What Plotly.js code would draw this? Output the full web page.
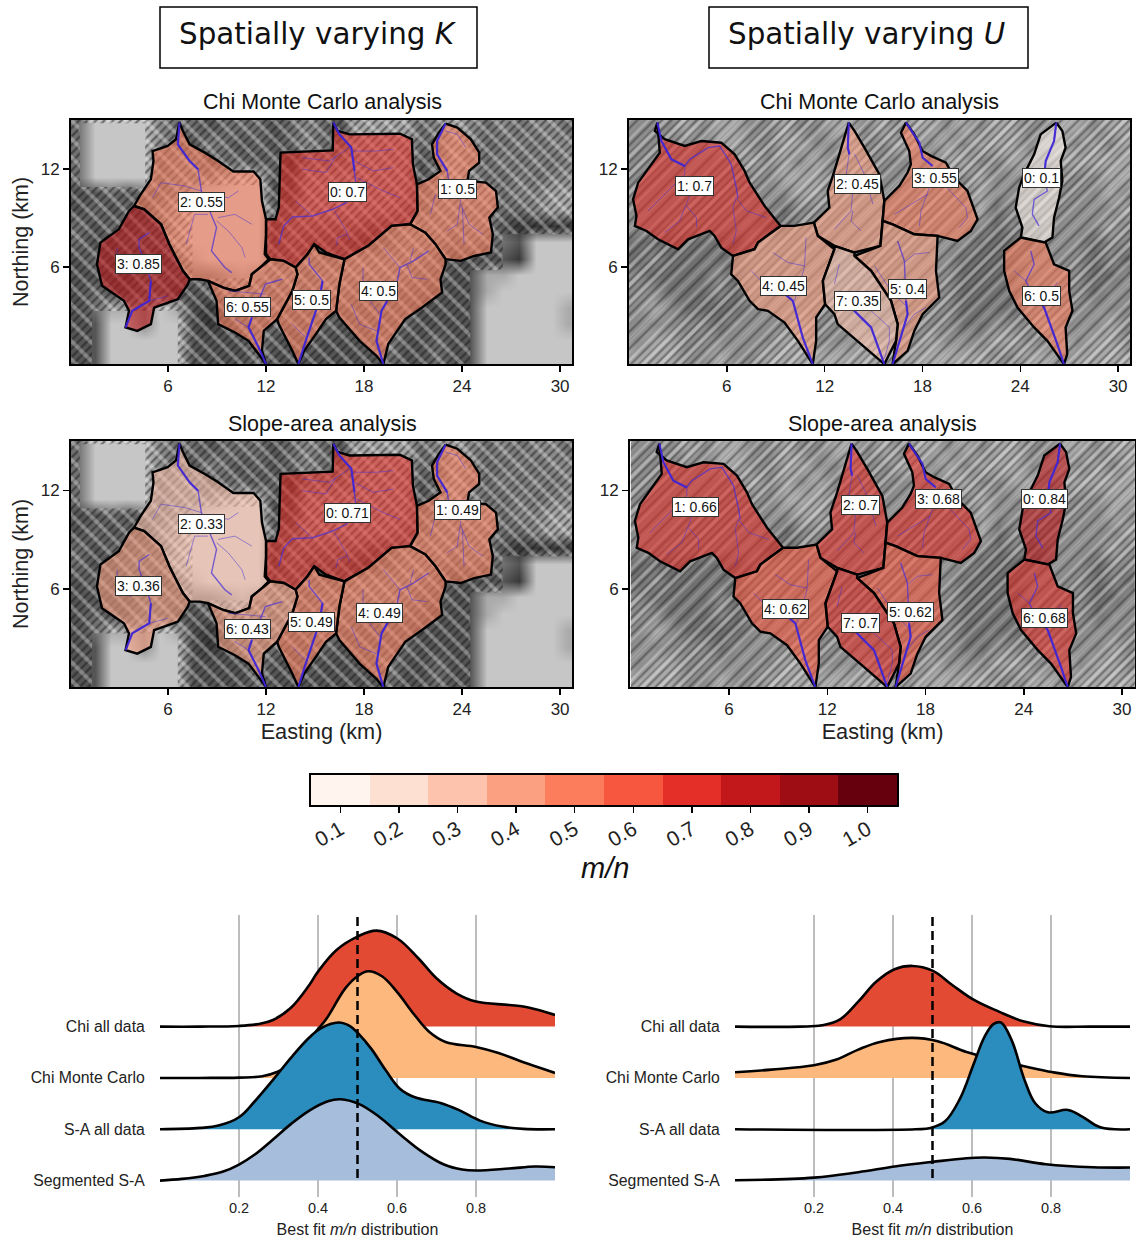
<!DOCTYPE html>
<html><head><meta charset="utf-8">
<script src="https://cdn.plot.ly/plotly-3.0.1.min.js"></script>
<style>html,body{margin:0;padding:0;background:#fff}#c{width:1136px;height:1241px}</style>
</head><body><div id="c"></div>
<script>
// ---------- colour bins (m/n) ----------
const binTicks=[0.1,0.2,0.3,0.4,0.5,0.6,0.7,0.8,0.9,1.0];
const binColors=['#fff4ee','#fee0d3','#fdc3ac','#fca082','#fb7d5b','#f6573e','#e32f27','#c2181b','#9e0d14','#67000d'];

// ---------- best-fit m/n by basin ----------
const valsKChi=[0.7,0.5,0.55,0.85,0.5,0.5,0.55];
const valsKSA=[0.71,0.49,0.33,0.36,0.49,0.49,0.43];
const valsUChi=[0.1,0.7,0.45,0.55,0.45,0.4,0.5,0.35];
const valsUSA=[0.84,0.66,0.7,0.68,0.62,0.62,0.68,0.7];

// ---------- label anchor points, km ----------
const labKChi=[[17.0,10.6],[23.75,10.75],[8.04,9.98],[4.19,6.2],[18.9,4.53],[14.78,4.0],[10.87,3.57]];
const labKSA=[[17.0,10.63],[23.75,10.78],[8.04,9.96],[4.19,6.2],[18.97,4.55],[14.78,4.02],[10.87,3.57]];
const labUChi=[[25.3,11.43],[3.99,10.98],[13.99,11.1],[18.78,11.43],[9.48,4.82],[17.09,4.63],[25.3,4.22],[13.99,3.92]];
const labUSA=[[25.25,11.49],[3.98,11.0],[14.0,11.14],[18.76,11.49],[9.47,4.82],[17.1,4.63],[25.25,4.24],[14.0,3.92]];

// ---------- basin outlines, km : spatially varying K ----------
const K0=[[16.12,14.84],[16.39,14.33],[17.11,14.12],[20.2,14.16],[20.93,13.82],[20.99,12.29],[21.24,11.06],[21.28,9.43],[20.82,8.61],[19.69,8.51],[18.97,7.9],[18.25,7.29],[16.8,6.47],[15.67,6.88],[14.95,7.39],[14.54,6.78],[13.81,5.96],[13.09,6.37],[12.27,6.47],[12.0,6.78],[12.0,8.92],[12.58,8.92],[12.78,9.63],[12.89,13.0],[16.08,13.14]];
const K1=[[22.99,14.78],[23.71,14.53],[24.54,13.82],[25.05,13.0],[25.05,12.39],[24.43,11.88],[24.33,11.27],[25.46,11.16],[26.08,10.65],[26.19,9.63],[25.67,9.02],[25.88,8.0],[25.77,6.88],[24.74,6.67],[23.92,6.37],[22.99,6.47],[22.37,7.39],[21.75,8.1],[20.82,8.61],[21.28,9.43],[21.24,11.06],[21.96,11.37],[22.68,11.88],[22.27,12.69],[22.16,13.51],[22.58,14.22]];
const K2=[[6.7,14.84],[6.91,14.33],[7.32,13.51],[8.25,13.0],[9.07,12.49],[10.0,11.84],[11.24,11.84],[11.65,11.37],[11.75,10.04],[12.0,8.92],[12.0,8.0],[11.92,6.78],[12.16,6.47],[11.75,6.06],[11.13,5.55],[10.97,4.84],[10.1,4.53],[9.38,4.73],[8.45,5.14],[7.94,5.24],[7.32,5.24],[6.91,5.76],[6.49,6.57],[6.08,7.39],[5.57,8.61],[4.54,9.53],[3.92,9.73],[4.33,10.45],[4.95,11.37],[5.11,12.49],[5.05,13.1],[5.98,13.41],[6.49,13.82]];
const K3=[[3.92,9.73],[4.54,9.53],[5.57,8.61],[6.08,7.39],[6.49,6.57],[6.91,5.76],[7.32,5.24],[7.22,4.94],[6.6,4.02],[5.15,3.51],[4.95,2.49],[4.12,2.08],[3.4,2.29],[3.61,3.31],[3.3,3.92],[1.96,4.84],[1.65,6.16],[1.86,7.49],[2.99,8.31],[3.61,9.43]];
const K4=[[19.18,0.04],[19.48,1.27],[20.52,2.8],[21.55,3.51],[22.78,4.43],[22.68,5.24],[22.99,6.16],[22.99,6.47],[22.37,7.39],[21.75,8.1],[20.82,8.61],[19.69,8.51],[18.97,7.9],[18.25,7.29],[16.8,6.47],[16.49,4.94],[16.29,3.31],[16.49,2.9],[17.73,1.47],[18.76,0.55]];
const K5=[[14.95,7.39],[15.26,6.88],[16.8,6.47],[16.49,4.94],[16.29,3.31],[15.67,2.8],[15.05,1.88],[14.33,0.86],[13.98,0.04],[13.61,0.86],[12.78,2.49],[12.68,2.8],[13.61,4.53],[13.92,5.55],[13.81,5.96],[14.54,6.78]];
const K6=[[12.0,0.04],[11.75,0.86],[11.86,2.08],[12.58,2.69],[12.68,2.8],[13.61,4.53],[13.92,5.55],[13.81,5.96],[13.09,6.37],[12.27,6.47],[11.75,6.06],[11.13,5.55],[10.97,4.84],[10.1,4.53],[9.38,4.73],[8.45,5.14],[8.97,3.92],[9.07,2.49],[10.1,1.98],[10.93,1.47],[11.55,0.65]];

// ---------- basin outlines, km : spatially varying U ----------
const U0=[[26.21,14.84],[26.58,14.33],[26.78,13.31],[26.48,12.49],[26.58,11.27],[26.38,10.24],[26.07,9.02],[25.97,7.8],[25.46,7.49],[24.03,7.8],[24.13,8.41],[23.72,9.63],[23.93,10.86],[24.23,11.67],[24.85,12.9],[25.25,14.12]];
const U1=[[1.74,14.84],[1.58,14.33],[2.19,13.82],[3.42,13.41],[4.44,13.71],[5.66,13.61],[6.48,12.9],[7.09,11.88],[7.4,11.16],[8.32,9.73],[9.3,8.51],[7.91,7.49],[7.7,7.08],[6.38,6.67],[5.66,7.18],[5.25,7.9],[4.95,8.2],[4.23,7.9],[3.62,7.69],[3.01,7.08],[1.78,7.69],[1.07,8.2],[0.36,8.51],[0.46,9.12],[0.25,10.14],[0.56,11.16],[1.38,12.29],[1.89,13.0]];
const U2=[[13.48,14.84],[13.83,14.33],[14.44,13.31],[15.36,11.67],[15.66,10.04],[15.56,8.82],[15.42,7.29],[13.83,6.88],[12.6,7.29],[11.58,7.9],[11.34,8.71],[12.29,9.63],[12.19,10.65],[12.6,11.88],[13.11,13.51]];
const U3=[[16.99,14.84],[17.5,14.12],[18.0,13.1],[18.52,12.8],[19.44,12.39],[19.95,11.47],[20.76,10.65],[21.38,8.92],[20.97,8.2],[20.15,7.59],[18.93,7.9],[17.5,8.0],[16.17,8.61],[15.56,8.82],[15.66,10.04],[16.58,10.96],[17.09,11.78],[17.29,12.29],[17.19,13.1],[16.68,14.22]];
const U4=[[9.3,8.51],[7.91,7.49],[7.7,7.08],[6.38,6.67],[6.27,5.55],[6.68,5.14],[7.4,3.92],[7.91,3.41],[8.52,3.31],[9.54,2.59],[10.36,1.47],[11.27,0.04],[11.48,1.47],[11.48,2.9],[12.03,3.71],[11.89,5.14],[12.6,7.08],[11.58,7.9],[11.34,8.71],[10.15,8.51]];
const U5=[[16.17,8.61],[17.5,8.0],[18.93,7.9],[18.89,6.78],[18.83,5.76],[19.03,4.12],[18.01,3.1],[17.5,2.08],[17.09,0.86],[16.17,0.04],[16.38,1.47],[16.48,2.49],[16.07,3.92],[14.85,5.76],[13.83,6.67],[15.42,7.29],[15.56,8.82]];
const U6=[[24.03,7.8],[25.46,7.49],[25.56,7.49],[26.07,6.16],[27.0,5.76],[27.0,4.53],[27.2,3.31],[26.78,2.29],[26.88,0.65],[26.68,0.04],[25.66,1.47],[24.85,2.29],[23.83,3.51],[23.32,4.53],[23.01,5.76],[23.01,6.98]];
const U7=[[12.6,7.29],[13.83,6.88],[13.83,6.67],[14.85,5.76],[16.07,3.92],[16.48,2.49],[16.38,1.47],[15.66,0.04],[14.23,1.27],[12.8,2.49],[12.6,3.1],[12.03,3.71],[11.89,5.14],[12.6,7.08]];

// ---------- channel networks, km ----------
const K0main=[[16.12,14.84],[16.49,14.12],[17.22,13.31],[17.42,11.88],[17.53,10.86],[16.91,9.94],[16.08,9.53],[14.85,9.12],[13.61,9.06],[13.09,8.51],[12.78,7.39]];
const K0trib=[[[17.53,11.47],[19.18,10.65],[20.2,10.24]],[[17.42,12.49],[18.56,11.88],[19.79,12.08]],[[17.32,13.1],[18.76,13.1],[19.79,13.2]],[[17.11,13.31],[15.88,12.49],[14.23,12.69]],[[16.29,12.8],[15.67,11.78],[14.23,11.98]],[[16.19,9.43],[16.91,8.2],[17.11,7.69]],[[14.85,9.12],[13.81,10.04]],[[16.91,8.0],[16.39,7.8],[16.29,7.29]]];
const K1main=[[22.99,14.78],[22.47,13.71],[22.47,12.9],[23.09,11.88],[23.2,11.16]];
const K1trib=[[[22.99,14.33],[23.71,14.12],[24.23,13.31]],[[23.92,10.14],[23.71,8.61],[23.09,8.2]],[[23.92,9.84],[24.43,8.61],[25.26,8.0]],[[24.02,9.63],[24.12,7.39]],[[22.37,10.45],[22.06,9.22]]];
const K2main=[[6.7,14.84],[6.6,13.51],[7.32,12.49],[7.84,11.98],[8.04,10.65],[8.45,9.63],[8.97,8.41],[8.66,6.98],[9.48,5.96],[9.9,5.65]];
const K2trib=[[[8.04,10.65],[7.01,10.96],[5.57,11.16],[5.05,10.24]],[[8.04,10.55],[9.69,10.24],[10.31,10.65]],[[8.97,8.82],[9.69,8.2],[10.52,7.18],[10.72,6.57]],[[8.45,9.22],[7.63,9.22],[7.11,7.39]],[[9.07,9.02],[10.1,9.22],[11.13,8.61]]];
const K3main=[[3.4,2.29],[3.81,3.31],[4.85,3.92],[4.95,5.14],[4.64,6.16],[4.23,7.18],[4.23,7.69],[4.85,8.1]];
const K3trib=[[[4.85,3.92],[5.98,4.22]],[[4.64,5.96],[3.71,5.55],[2.89,6.16],[2.89,7.18]]];
const K4main=[[19.18,0.04],[18.76,1.47],[19.07,3.31],[20.0,4.94],[20.2,5.96],[21.03,6.37],[21.96,6.98]];
const K4trib=[[[20.2,5.96],[19.18,7.18]],[[20.62,6.16],[20.93,5.35],[21.86,5.24]],[[18.97,3.1],[18.35,3.92],[17.94,5.14],[17.94,5.96]],[[18.76,2.08],[17.73,2.49],[17.22,3.71]],[[20.82,6.37],[21.03,7.18]]];
const K5main=[[13.98,0.04],[14.43,1.47],[15.26,3.92],[15.46,5.14],[14.64,6.16],[14.64,6.57]];
const K5trib=[[[14.43,1.67],[13.61,2.49]]];
const K6main=[[12.0,0.04],[11.55,1.06],[10.93,2.29],[11.13,2.9],[11.96,4.94],[12.99,5.24]];
const K6trib=[[[10.93,2.29],[10.1,2.8]],[[11.96,4.33],[9.69,4.53]]];

const U0main=[[26.21,14.84],[26.07,13.71],[25.56,12.49],[25.46,11.47],[25.66,10.65],[24.85,10.14],[24.74,9.22],[25.15,8.51]];
const U0trib=[];
const U1main=[[1.74,14.84],[1.99,13.71],[2.6,12.59],[3.42,12.18],[3.72,12.59],[4.85,13.31],[5.56,13.41],[6.27,12.29],[6.58,10.86],[6.68,10.24]];
const U1trib=[[[3.42,12.18],[3.42,11.67],[1.78,10.04],[1.17,9.43]],[[3.72,10.35],[3.11,8.82],[2.19,8.1]],[[3.53,9.73],[4.14,9.02],[4.14,8.41]],[[6.58,10.24],[6.38,9.63],[6.58,8.2],[6.38,7.39]],[[6.58,10.24],[7.2,9.43],[8.42,9.02]]];
const U2main=[[13.48,14.84],[13.42,13.31],[13.52,12.9]];
const U2trib=[[[13.52,13.0],[13.32,11.67]],[[13.84,12.9],[14.44,11.67],[14.96,9.84]],[[13.73,10.65],[13.62,9.43],[12.6,8.31]],[[13.73,9.43],[13.62,8.82],[14.23,8.2]]];
const U3main=[[16.99,14.84],[17.81,13.61],[18.01,12.69],[18.62,12.18]];
const U3trib=[[[18.42,10.86],[17.91,9.43],[17.81,8.51]],[[19.5,10.86],[20.66,9.63],[20.76,9.02],[20.25,8.41]],[[18.32,10.45],[16.28,9.22]]];
const U4main=[[11.27,0.04],[10.66,1.67],[10.05,3.92],[9.33,4.53]];
const U4trib=[[[10.15,3.92],[10.76,5.96],[10.86,7.8]],[[10.76,6.06],[9.74,6.27],[8.82,6.88]],[[9.33,4.53],[8.11,5.14],[7.5,5.76]]];
const U5main=[[16.17,0.04],[16.58,1.47],[17.09,3.1],[16.99,3.92],[16.89,5.96],[16.89,6.37],[16.48,7.59]];
const U5trib=[[[16.89,6.27],[17.5,6.78],[18.42,6.88]],[[17.09,3.51],[16.07,4.53],[15.06,6.06]],[[16.89,2.29],[17.5,3.1],[18.21,3.51]]];
const U6main=[[26.68,0.04],[26.27,1.27],[25.46,3.51],[24.54,4.73],[24.34,5.14],[24.85,6.16],[24.64,6.98]];
const U6trib=[[[24.34,5.14],[23.62,5.76]],[[25.36,3.71],[26.27,5.04]]];
const U7main=[[15.66,0.04],[14.85,2.29],[14.13,3.0],[13.62,3.51]];
const U7trib=[[[15.66,0.35],[15.97,1.47],[15.97,2.29],[14.85,3.31]],[[12.6,4.94],[12.9,6.16]]];

// ---------- hillshade tone, estimated per km cell (top row first, 0 dark - 9 light) ----------
const shadeK=[
"47777 54434 44345 43666 64565 45455 4","47777 54354 34345 44666 64465 44545 5","47777 45534 43425 55666 63465 45454 5",
"47777 45556 77336 66666 63565 44545 5","33434 45677 77336 66666 64555 64556 6","34343 56777 77446 66666 54555 54456 6",
"43434 46777 77355 55544 55555 53222 2","43344 46777 77354 44334 55545 44377 7","34333 34677 77445 44555 55433 33277 7",
"33334 44445 65554 55555 54433 66777 7","34334 43345 55454 55444 44333 67777 7","34665 76323 44544 54444 43333 77777 6",
"33775 77323 44444 43444 43333 77777 6","33777 77333 35334 33345 33433 77777 7","33777 77333 34333 33334 33433 77777 7"];
const shadeU=[
"55565 66556 55665 65665 65665 56656 6","55555 66556 65565 56656 56665 66565 6","55555 55656 56555 55556 65566 56666 6",
"55555 55556 66556 55555 56555 55556 6","55555 55555 66555 55555 56555 55556 5","55555 55554 55555 55555 56455 55555 6",
"55555 55544 55555 55555 55454 55556 5","44444 44555 55555 55555 54444 55545 5","45444 44555 55555 55555 44445 55545 4",
"54444 54555 55555 55555 44445 55544 5","55444 54555 55555 55555 44445 55545 5","56544 44555 55555 55555 44445 55555 5",
"55555 45555 65555 55555 44555 65556 5","56655 55556 65556 55565 55665 56566 5","66655 65566 66666 65666 66556 65666 6"];

// ---------- ridgeline densities (relative) ----------
const rLx=[[0,.1,.2,.25,.286,.33,.378,.4,.447,.5,.548,.6,.654,.7,.75,.8,.884,.93,1],
[0,.1,.2,.259,.296,.314,.36,.401,.42,.47,.5,.527,.562,.6,.645,.682,.723,.8,.857,.93,1],
[0,.102,.148,.2,.24,.286,.332,.378,.406,.452,.48,.503,.535,.572,.608,.645,.71,.756,.81,.866,.92,1],
[0,.056,.112,.16,.2,.24,.286,.332,.378,.425,.457,.503,.553,.608,.664,.719,.765,.8,.884,.949,1]];
const rLh=[[0,0,2,8,20,55,125,165,230,270,288,265,205,145,100,75,65,58,35],
[0,0,1,5,18,30,88,148,175,270,305,320,305,258,188,138,108,93,75,43,15],
[0,4,11,36,84,148,215,275,302,320,310,286,241,176,121,96,79,58,26,8,1,0],
[0,5,14,27,48,78,123,170,210,238,244,230,193,138,86,48,33,30,36,42,40]];
const rRx=[[0,.165,.22,.266,.312,.358,.404,.449,.5,.55,.605,.668,.732,.796,.9,1],
[0,.092,.2,.257,.312,.367,.449,.513,.586,.66,.732,.805,.879,1],
[0,.458,.495,.531,.568,.605,.632,.655,.673,.7,.733,.76,.792,.843,.879,.925,1],
[0,.2,.312,.404,.5,.586,.632,.696,.787,.906,1]];
const rRh=[[0,0,4,22,75,135,172,182,168,125,80,45,15,1,0,0],
[17,25,38,55,85,108,120,110,78,55,35,17,5,0],
[0,0,4,23,88,198,278,316,320,268,148,78,51,58,38,6,0],
[1,9,25,42,56,67,69,65,49,40,39]];
const ridgeNames=['Chi all data','Chi Monte Carlo','S-A all data','Segmented S-A'];
const ridgeColors=['#e24a33','#fdb97d','#2b8cbe','#a6bddb'];
const ridgeTicks=[0.2,0.4,0.6,0.8];
const ridgeBases=[3,2,1,0];
const refLine=0.5;
// rough-terrain hatch area, K panels: outer frame + smooth blocks
const smoothBlocks=[[[0.6,10.9],[0.6,14.8],[4.6,14.8],[4.6,10.9]],[[1.35,0],[1.35,3.3],[6.6,3.3],[6.6,0]],[[24.5,0],[24.5,5.8],[26.5,5.8],[26.5,8],[31,8],[31,0]],[[7.5,5.3],[7.5,11],[11.9,11],[11.9,5.3]]];
const mapFrame=[[0,0],[31,0],[31,15],[0,15]];

const W=1136,H=1241;
const dx=(a,b)=>[a/W,b/W], dy=(t,b)=>[1-b/H,1-t/H];
const font='"Liberation Sans",Arial,sans-serif';
const traces=[], annotations=[];
const px=(p)=>p.map(q=>q[0]), py=(p)=>p.map(q=>q[1]);
const closed=(p)=>p.concat([p[0]]);
const digits=(rows)=>rows.map(r=>r.replace(/ /g,'').split('').map(Number));
const kmx=Array.from(shadeK[0].replace(/ /g,'')).map((_,i)=>i+0.5);
const kmy=shadeK.map((_,i)=>14.5-i);
function binColor(v,a){
  const i=Math.max(0,Math.min(9,Math.ceil(v*10-0.5-1e-9)-1));
  const c=binColors[i];
  const r=parseInt(c.slice(1,3),16),g=parseInt(c.slice(3,5),16),b=parseInt(c.slice(5,7),16);
  return `rgba(${r},${g},${b},${a})`;
}
const basinsK=[K0,K1,K2,K3,K4,K5,K6];
const mainsK=[K0main,K1main,K2main,K3main,K4main,K5main,K6main];
const tribsK=[K0trib,K1trib,K2trib,K3trib,K4trib,K5trib,K6trib];
const basinsU=[U0,U1,U2,U3,U4,U5,U6,U7];
const mainsU=[U0main,U1main,U2main,U3main,U4main,U5main,U6main,U7main];
const tribsU=[U0trib,U1trib,U2trib,U3trib,U4trib,U5trib,U6trib,U7trib];

function mapPanel(n,shade,basins,mains,tribs,vals,labs,isK){
  const xa='x'+(n===1?'':n), ya='y'+(n===1?'':n);
  traces.push({type:'heatmap',x:kmx,y:kmy,z:digits(shade),zmin:0,zmax:9,zsmooth:'best',showscale:false,
    colorscale:[[0,'#000'],[1,'#fff']],hoverinfo:'skip',xaxis:xa,yaxis:ya});
  let hx=px(closed(mapFrame)),hy=py(closed(mapFrame));
  if(isK){ smoothBlocks.forEach(b=>{const c=closed(b);hx=hx.concat([null],px(c));hy=hy.concat([null],py(c));}); }
  traces.push({type:'scatter',mode:'none',x:hx,y:hy,fill:'toself',fillcolor:'rgba(0,0,0,0)',
    fillpattern:{shape:'/',size:6,solidity:0.4,fgcolor:'#111',fgopacity:isK?0.45:0.35},hoverinfo:'skip',xaxis:xa,yaxis:ya});
  traces.push({type:'scatter',mode:'none',x:hx,y:hy,fill:'toself',fillcolor:'rgba(0,0,0,0)',
    fillpattern:{shape:isK?'\\':'/',size:13,solidity:0.3,fgcolor:'#fff',fgopacity:0.3},hoverinfo:'skip',xaxis:xa,yaxis:ya});
  basins.forEach((b,i)=>{
    const c=closed(b);
    traces.push({type:'scatter',mode:'lines',x:px(c),y:py(c),fill:'toself',fillcolor:binColor(vals[i],0.58),
      line:{color:'#000',width:2.4},hoverinfo:'skip',xaxis:xa,yaxis:ya});
  });
  basins.forEach((b,i)=>{
    tribs[i].forEach(t=>traces.push({type:'scatter',mode:'lines',x:px(t),y:py(t),line:{color:'rgba(70,50,215,0.5)',width:1},hoverinfo:'skip',xaxis:xa,yaxis:ya}));
    traces.push({type:'scatter',mode:'lines',x:px(mains[i]),y:py(mains[i]),line:{color:'rgba(70,45,215,0.7)',width:1.4},hoverinfo:'skip',xaxis:xa,yaxis:ya});
    const trunk=mains[i].slice(0,4);
    traces.push({type:'scatter',mode:'lines',x:px(trunk),y:py(trunk),line:{color:'rgba(60,35,215,0.85)',width:2.2},hoverinfo:'skip',xaxis:xa,yaxis:ya});
    annotations.push({xref:xa,yref:ya,x:labs[i][0],y:labs[i][1],text:`${i}: ${vals[i]}`,showarrow:false,
      bgcolor:'#fff',bordercolor:'#333',borderwidth:1,borderpad:1,font:{family:font,size:14,color:'#111'}});
  });
}
mapPanel(1,shadeK,basinsK,mainsK,tribsK,valsKChi,labKChi,true);
mapPanel(2,shadeU,basinsU,mainsU,tribsU,valsUChi,labUChi,false);
mapPanel(3,shadeK,basinsK,mainsK,tribsK,valsKSA,labKSA,true);
mapPanel(4,shadeU,basinsU,mainsU,tribsU,valsUSA,labUSA,false);

// colour bar
const stops=[];binColors.forEach((c,i)=>{stops.push([i/10,c]);stops.push([(i+1)/10,c]);});
traces.push({type:'heatmap',x:binTicks,y:[0],z:[binTicks],zmin:0.05,zmax:1.05,colorscale:stops,showscale:false,hoverinfo:'skip',xaxis:'x5',yaxis:'y5'});

// ridgelines
function ridge(xs,hs,xa,ya){
  const scale=1/153.9;
  xs.forEach((x,i)=>{
    const base=ridgeBases[i];
    traces.push({type:'scatter',mode:'lines',x:x,y:x.map(()=>base),line:{width:0,color:'rgba(0,0,0,0)'},hoverinfo:'skip',xaxis:xa,yaxis:ya});
    traces.push({type:'scatter',mode:'lines',x:x,y:hs[i].map(h=>base+h*scale),fill:'tonexty',fillcolor:ridgeColors[i],
      line:{color:'#000',width:2.6,shape:'spline',smoothing:1.1},hoverinfo:'skip',xaxis:xa,yaxis:ya});
  });
  traces.push({type:'scatter',mode:'lines',x:[refLine,refLine],y:[0.05,5.17],line:{color:'#000',width:2.5,dash:'9px,5px'},hoverinfo:'skip',xaxis:xa,yaxis:ya});
}
ridge(rLx,rLh,'x6','y6');
ridge(rRx,rRh,'x7','y7');

function mapX(dom,range,title,anchor){
  const o={domain:dom,range:range,tickvals:[6,12,18,24,30],ticks:'outside',ticklen:6,tickwidth:1.5,tickcolor:'#000',
    showline:true,mirror:true,linecolor:'#000',linewidth:2,showgrid:false,zeroline:false,anchor:anchor,
    tickfont:{family:font,size:17,color:'#222'}};
  if(title)o.title={text:'Easting (km)',font:{family:font,size:21.7,color:'#222'},standoff:3};
  return o;
}
function mapY(dom,title,anchor){
  const o={domain:dom,range:[0.05,15],tickvals:[6,12],ticks:'outside',ticklen:6,tickwidth:1.5,tickcolor:'#000',
    showline:true,mirror:true,linecolor:'#000',linewidth:2,showgrid:false,zeroline:false,anchor:anchor,
    tickfont:{family:font,size:17,color:'#222'}};
  if(title)o.title={text:'Northing (km)',font:{family:font,size:21.5,color:'#222'},standoff:6};
  return o;
}
function ridgeX(dom,anchor){
  return {domain:dom,range:[0,1],tickvals:ridgeTicks,ticktext:ridgeTicks.map(String),ticks:'',showline:false,zeroline:false,showgrid:true,
    gridcolor:'#bdbdbd',gridwidth:1.4,anchor:anchor,tickfont:{family:font,size:14.5,color:'#222'},
    title:{text:'Best fit <i>m/n</i> distribution',font:{family:font,size:16,color:'#222'},standoff:9}};
}
function ridgeY(anchor){
  return {domain:dy(915,1197),range:[-0.32,5.175],tickvals:ridgeBases,ticktext:ridgeNames,ticks:'outside',ticklen:11,tickcolor:'rgba(0,0,0,0)',
    showline:false,zeroline:false,showgrid:false,anchor:anchor,tickfont:{family:font,size:15.8,color:'#222'}};
}
function paperText(x,y,text,size,family){
  annotations.push({xref:'paper',yref:'paper',x:x/W,y:1-y/H,text:text,showarrow:false,xanchor:'center',yanchor:'middle',
    font:{family:family||font,size:size,color:'#111'}});
}
paperText(317.5,34,'Spatially varying <i>K</i>',29.4,'"DejaVu Sans"');
paperText(866.5,34,'Spatially varying <i>U</i>',29.4,'"DejaVu Sans"');
paperText(322,102,'Chi Monte Carlo analysis',21.5);
paperText(879,102,'Chi Monte Carlo analysis',21.5);
paperText(322,424,'Slope-area analysis',21.5);
paperText(882,424,'Slope-area analysis',21.5);
paperText(605,868,'<i>m/n</i>',29);

const rect=(x0,y0,x1,y1)=>({type:'rect',xref:'paper',yref:'paper',x0:x0/W,x1:x1/W,y0:1-y1/H,y1:1-y0/H,line:{color:'#000',width:1.5},fillcolor:'rgba(0,0,0,0)'});

const layout={width:W,height:H,margin:{l:0,r:0,t:0,b:0},paper_bgcolor:'#fff',plot_bgcolor:'#fff',showlegend:false,
  annotations:annotations,shapes:[rect(160,7,477,68),rect(709,7,1028,68)],
  xaxis:mapX(dx(71,572),[0.06,30.73],false,'y'),yaxis:mapY(dy(120,364),true,'x'),
  xaxis2:mapX(dx(629,1130),[0.0,30.73],false,'y2'),yaxis2:mapY(dy(120,364),false,'x2'),
  xaxis3:mapX(dx(71,572),[0.06,30.73],true,'y3'),yaxis3:mapY(dy(441,687),true,'x3'),
  xaxis4:mapX(dx(630,1135),[-0.05,30.79],true,'y4'),yaxis4:mapY(dy(441,687),false,'x4'),
  xaxis5:{domain:dx(311,897),range:[0.05,1.05],tickvals:binTicks,ticktext:binTicks.map(v=>v.toFixed(1)),tickangle:-30,ticks:'outside',ticklen:6,tickwidth:1.5,ticklabelstandoff:-4,
    tickcolor:'#000',showline:true,mirror:true,linecolor:'#000',linewidth:2,zeroline:false,showgrid:false,anchor:'y5',tickfont:{family:font,size:21,color:'#222'}},
  yaxis5:{domain:dy(775,805),range:[-0.5,0.5],showticklabels:false,ticks:'',showline:true,mirror:true,linecolor:'#000',linewidth:2,zeroline:false,showgrid:false,anchor:'x5'},
  xaxis6:ridgeX(dx(160,555),'y6'),yaxis6:ridgeY('x6'),
  xaxis7:ridgeX(dx(735,1130),'y7'),yaxis7:ridgeY('x7')
};
Plotly.newPlot('c',traces,layout,{displayModeBar:false,staticPlot:true});
</script></body></html>
